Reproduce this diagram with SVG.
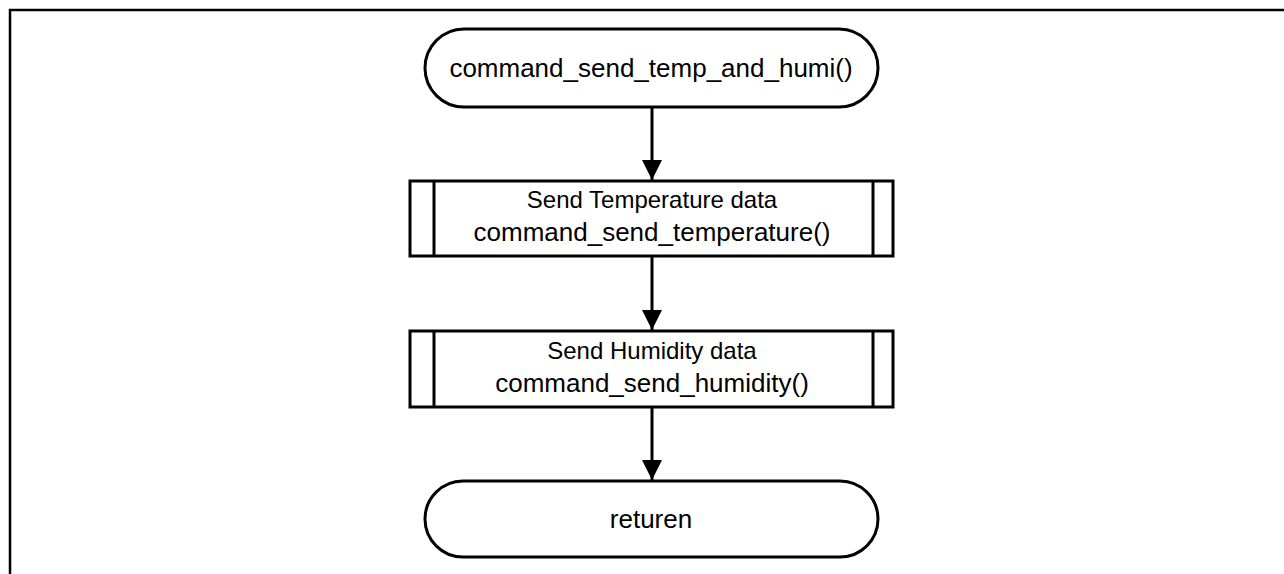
<svg xmlns="http://www.w3.org/2000/svg" width="1284" height="574" viewBox="0 0 1284 574">
<style>
.shape{fill:#fff;stroke:#000;stroke-width:3}
.line{fill:none;stroke:#000;stroke-width:3}
.t{font-family:"Liberation Sans",Arial,sans-serif;fill:#000;text-anchor:middle}
.big{font-size:26px}
.small{font-size:24px}
</style>
<defs>
<marker id="arr" markerUnits="userSpaceOnUse" markerWidth="20" markerHeight="30" refX="20" refY="10" orient="auto">
<path d="M0,0 L20,10 L0,20 Z" fill="#000"/>
</marker>
</defs>
<rect width="1284" height="574" fill="#fff"/>
<path d="M10,574 V10 H1284" fill="none" stroke="#000" stroke-width="2.5"/>
<g id="connectors">
<path class="line" d="M652,107 V180" marker-end="url(#arr)"/>
<path class="line" d="M652,256 V330" marker-end="url(#arr)"/>
<path class="line" d="M652,407 V480" marker-end="url(#arr)"/>
</g>
<g id="start">
<rect class="shape" x="425" y="29" width="453" height="78" rx="39" ry="39"/>
<text class="t big" x="651" y="77">command_send_temp_and_humi()</text>
</g>
<g id="send_temperature">
<rect class="shape" x="410" y="181" width="483" height="75"/>
<line class="line" x1="434" y1="181" x2="434" y2="256"/>
<line class="line" x1="873" y1="181" x2="873" y2="256"/>
<text class="t small" x="652" y="208">Send Temperature data</text>
<text class="t big" x="652" y="241">command_send_temperature()</text>
</g>
<g id="send_humidity">
<rect class="shape" x="410" y="331" width="483" height="76"/>
<line class="line" x1="434" y1="331" x2="434" y2="407"/>
<line class="line" x1="873" y1="331" x2="873" y2="407"/>
<text class="t small" x="652" y="359">Send Humidity data</text>
<text class="t big" x="652" y="392">command_send_humidity()</text>
</g>
<g id="end">
<rect class="shape" x="425" y="481" width="453" height="76" rx="38" ry="38"/>
<text class="t big" x="651" y="528">returen</text>
</g>
</svg>
